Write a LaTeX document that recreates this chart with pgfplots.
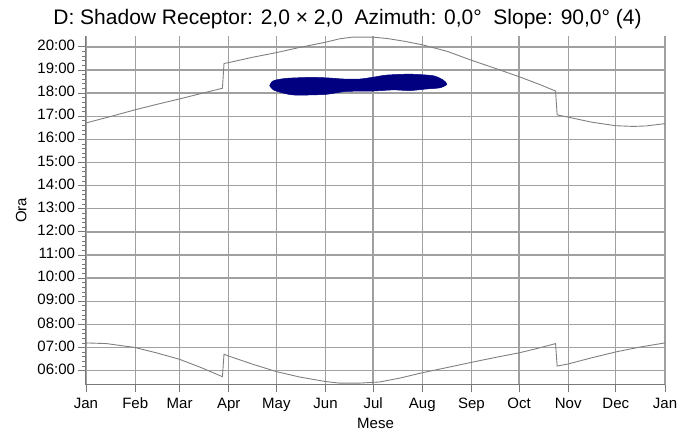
\documentclass[border=0pt]{standalone}
\usepackage{pgfplots}
\pgfplotsset{compat=1.18}
\usetikzlibrary{calc}
\usepackage{fontspec}
\setmainfont{Liberation Sans}
\definecolor{gridc}{RGB}{160,160,160}
\definecolor{curvec}{RGB}{128,128,128}
\definecolor{axc}{RGB}{120,120,120}
\definecolor{navyc}{RGB}{0,0,128}
\begin{document}
\begin{tikzpicture}
\begin{axis}[
  scale only axis, width=579pt, height=349pt,
  xmin=0, xmax=365, ymin=5.38, ymax=20.47,
  axis lines=left,
  axis line style={-, draw=axc, line width=1pt},
  xtick={0,31,59,90,120,151,181,212,243,273,304,334,365},
  xticklabels={Jan,Feb,Mar,Apr,May,Jun,Jul,Aug,Sep,Oct,Nov,Dec,Jan},
  minor x tick num=3,
  ytick={6,7,8,9,10,11,12,13,14,15,16,17,18,19,20},
  yticklabels={06:00,07:00,08:00,09:00,10:00,11:00,12:00,13:00,14:00,15:00,16:00,17:00,18:00,19:00,20:00},
  minor y tick num=4,
  grid=major,
  major grid style={draw=gridc, line width=1.3pt},
  tick style={draw=axc, line width=0.8pt},
  tick align=outside,
  major tick length=7.5pt, minor tick length=4pt,
  typeset ticklabels with strut,
  ticklabel style={font=\fontsize{15}{18}\selectfont, text=black},
  xlabel={Mese}, ylabel={Ora},
  every axis x label/.style={at={(axis description cs:0.5,-0.109)}, anchor=center, font=\fontsize{15}{18}\selectfont},
  every axis y label/.style={at={(axis description cs:-0.112,0.5)}, anchor=center, rotate=90, font=\fontsize{15}{18}\selectfont},
  title={D: Shadow Receptor: 2,0 × 2,0\ \ Azimuth: 0,0°\ \ Slope: 90,0° (4)},
  every axis title/.style={at={(0.5,1)}, anchor=base, xshift=-28pt, yshift=11pt, font=\fontsize{21}{24}\selectfont},
  clip=false,
]
% sunset
\addplot[curvec, line width=0.9pt] coordinates {
(0,16.71) (15,16.98) (31,17.28) (45,17.52) (59,17.75) (73,17.99) (86,18.21)
(87,19.28) (90,19.32) (105,19.55) (120,19.75) (135,19.98) (151,20.2) (160,20.35)
(168,20.42) (181,20.42) (190,20.36) (200,20.25) (212,20.09) (228,19.8) (243,19.42)
(258,19.07) (273,18.71) (285,18.40) (296,18.09)
(297,17.06) (304,16.96) (319,16.74) (334,16.59) (345,16.56) (353,16.58) (365,16.68)
};
% sunrise
\addplot[curvec, line width=0.9pt] coordinates {
(0,7.20) (13,7.17) (31,7.0) (45,6.76) (59,6.49) (73,6.12) (86,5.74)
(87,6.71) (90,6.63) (105,6.28) (120,5.96) (135,5.72) (151,5.53) (160,5.46)
(172,5.46) (185,5.51) (198,5.68) (212,5.91) (228,6.14) (243,6.36) (258,6.57)
(273,6.77) (285,6.97) (296,7.17)
(297,6.20) (304,6.29) (319,6.56) (334,6.81) (350,7.03) (365,7.20)
};
% shadow area
\addplot[fill=navyc, draw=navyc, line width=0.5pt, smooth, tension=0.4] coordinates {
(115.8,18.32) (117,18.48) (119.2,18.56) (126.5,18.64) (141.2,18.68) (151.8,18.66)
(162.3,18.61) (172.8,18.61) (181.2,18.69) (189.6,18.78) (204.3,18.82) (219,18.75)
(225.3,18.56) (227.5,18.38)
(223.2,18.23) (214.8,18.18) (204.3,18.11) (193.8,18.14) (181.2,18.09) (172.8,18.09)
(162.3,18.06) (151.8,17.95) (141.2,17.92) (130.7,17.92) (124.4,18.0) (118.1,18.14)
(115.8,18.32)
};
\end{axis}
\pgfresetboundingbox
\path[use as bounding box] ($(current axis.south west)+(-86pt,-47pt)$) rectangle ($(current axis.north east)+(30pt,36pt)$);
\end{tikzpicture}
\end{document}
